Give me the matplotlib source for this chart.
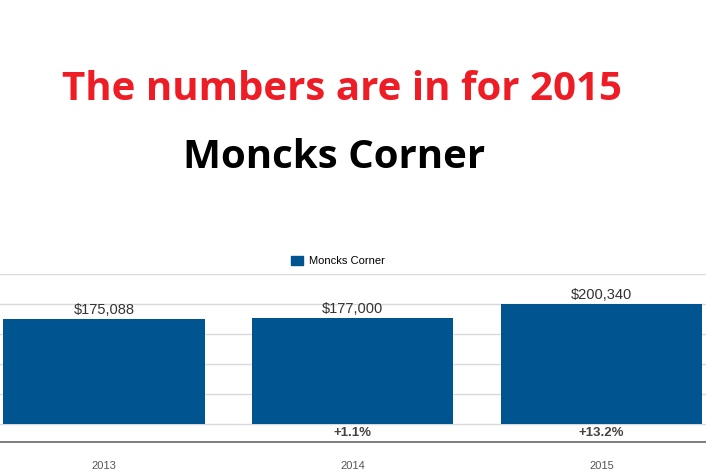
import matplotlib
matplotlib.use("Agg")
import matplotlib.pyplot as plt
from matplotlib.patches import Patch

years = ["2013", "2014", "2015"]
values = [175088, 177000, 200340]
value_labels = ["$175,088", "$177,000", "$200,340"]
pct_labels = ["", "+1.1%", "+13.2%"]

fig = plt.figure(figsize=(7.06, 4.74), dpi=100)
ax = fig.add_axes([0, 1 - 442/474, 1, 168/474])
x = list(range(len(years)))
bars = ax.bar(x, values, width=0.81, color="#00548f", zorder=3)
ax.set_xlim(-104/248.5, 2 + 104.5/248.5)
ax.set_ylim(-30000, 250000)
ax.set_yticks([0, 50000, 100000, 150000, 200000, 250000])
ax.yaxis.grid(True, color="#d9d9d9", lw=1, zorder=0)
ax.tick_params(left=False, labelleft=False, bottom=False)
ax.set_xticks(x)
ax.set_xticklabels(years, fontsize=8, color="#555555", family="Liberation Sans")
ax.tick_params(axis="x", pad=10)
for s in ["left", "right", "top"]:
    ax.spines[s].set_visible(False)
ax.spines["bottom"].set_color("#666666")
ax.spines["bottom"].set_linewidth(1.2)
for xi, v, lab, p in zip(x, values, value_labels, pct_labels):
    ax.text(xi, v + 2500, lab, ha="center", va="bottom", fontsize=10.5,
            color="#333333", family="Liberation Sans")
    if p:
        ax.text(xi, -15000, p, ha="center", va="center", fontsize=9.5,
                color="#444444", fontweight="bold", family="Liberation Sans")

fig.legend(handles=[Patch(color="#00548f", label="Moncks Corner")],
           loc="center", bbox_to_anchor=(338/706, 1 - 261/474), frameon=False,
           fontsize=8, handlelength=1.1, handleheight=0.9, handletextpad=0.5,
           prop={"family": "Liberation Sans", "size": 8})

fig.text(342/706, 1 - 90/474, "The numbers are in for 2015", ha="center", va="center",
         color="#ee1c25", fontsize=29, fontweight="bold", family="Open Sans")
fig.text(334/706, 1 - 157/474, "Moncks Corner", ha="center", va="center",
         color="black", fontsize=29, fontweight="bold", family="Open Sans")

fig.savefig("out.png", dpi=100)
